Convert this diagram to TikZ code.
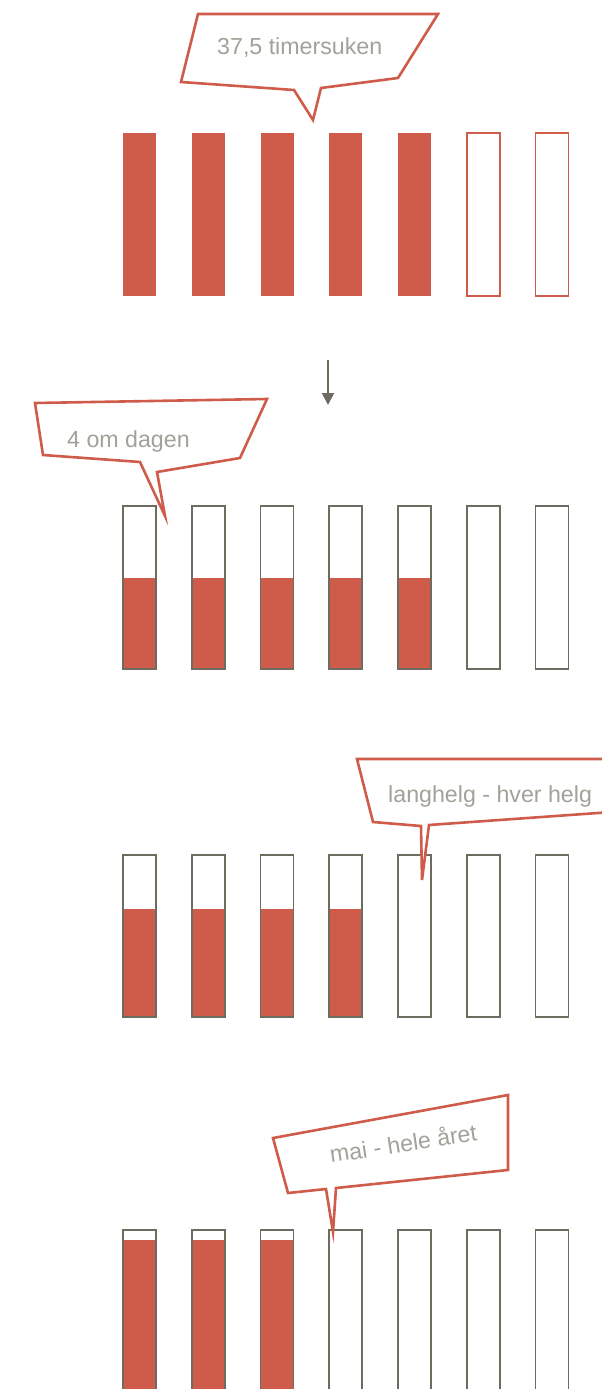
\documentclass[tikz,border=0pt]{standalone}
\usepackage{fontspec}
\setmainfont{Liberation Sans}
\usepackage{tikz}
\usetikzlibrary{arrows.meta}
\definecolor{wred}{HTML}{CF5C4A}
\definecolor{wgrey}{HTML}{6E6B5F}
\definecolor{wtext}{HTML}{A3A298}
\tikzset{
  >={Triangle[length=12pt,width=12pt]},
  wbar/.style={draw=wgrey, line width=1.6pt},
  wopen/.style={draw=wred, line width=1.6pt},
  wbubble/.style={draw=wred, line width=2.6pt, fill=white},
  wtxt/.style={wtext, font=\fontsize{23.2}{27}\selectfont, inner sep=0pt},
  wpil/.style={->, wgrey, line width=2pt},
}

\begin{document}
\begin{tikzpicture}[x=1pt, y=-1pt]

  \useasboundingbox (0,0) rectangle (602,1389);

  % uke 1
  \foreach \i in {0,...,4}
    \fill[wred] ({123+68.75*\i},133) rectangle ++(33,163);
  \foreach \i in {5,6}
    \draw[wopen] ({123+68.75*\i},133) rectangle ++(33,163);

  \draw[wbubble] (198,14) -- (438,14) -- (398,78) -- (321,88) -- (313,120)
                 -- (294,90) -- (181,82) -- cycle;
  \node[wtxt, anchor=base west] (timer) at (217,55) {37,5 timersuken};

  % pil
  \coordinate (pilA) at (328,360);
  \coordinate (pilB) at (328,405);
  \draw[wpil] (pilA) -- (pilB);

  % uke 2
  \foreach \i in {0,...,4}
    \fill[wred] ({123+68.75*\i},578) rectangle ++(33,91);
  \foreach \i in {0,...,6}
    \draw[wbar] ({123+68.75*\i},506) rectangle ++(33,163);

  \draw[wbubble] (35,403) -- (267,399) -- (240,458) -- (157,472) -- (165,516)
                 -- (140,462) -- (43,455) -- cycle;
  \node[wtxt, anchor=base west] (dag) at (67,447) {4 om dagen};

  % uke 3
  \foreach \i in {0,...,3}
    \fill[wred] ({123+68.75*\i},909) rectangle ++(33,108);
  \foreach \i in {0,...,6}
    \draw[wbar] ({123+68.75*\i},855) rectangle ++(33,162);

  \draw[wbubble] (357,759) -- (615,759) -- (612,812) -- (429,825) -- (422,880)
                 -- (421,826) -- (373,822) -- cycle;
  \node[wtxt, anchor=base west] (helg) at (388,802) {langhelg - hver helg};

  % uke 4
  \foreach \i in {0,...,2}
    \fill[wred] ({123+68.75*\i},1240) rectangle ++(33,170);
  \foreach \i in {0,...,6}
    \draw[wbar] ({123+68.75*\i},1410) -- ({123+68.75*\i},1230)
                -- ({156+68.75*\i},1230) -- ({156+68.75*\i},1410);

  \draw[wbubble] (273,1138) -- (508,1095) -- (508,1170) -- (336,1188) -- (333,1232)
                 -- (326,1189) -- (288,1193) -- cycle;
  \node[wtxt, anchor=base west, rotate=8.6] (aar) at (331,1163) {mai - hele året};

\end{tikzpicture}
\end{document}
